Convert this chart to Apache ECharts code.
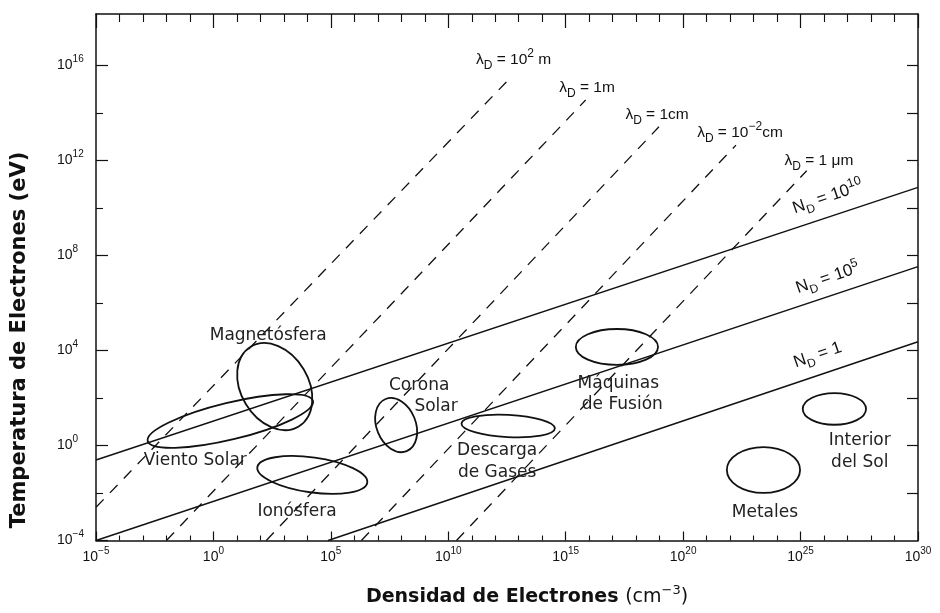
<!DOCTYPE html>
<html><head><meta charset="utf-8">
<script src="https://cdn.jsdelivr.net/npm/echarts@6/dist/echarts.min.js"></script>
<style>html,body{margin:0;padding:0;background:#fff}#c{width:940px;height:613px}</style>
</head><body><div id="c"></div>
<script>
// All values are log10: x = electron density (cm^-3), y = electron temperature (eV)
const xTicks = [-5, 0, 5, 10, 15, 20, 25, 30];
const yTicks = [-4, 0, 4, 8, 12, 16];
const yMinorTicks = [-2, 2, 6, 10, 14];
const yRightTicks = [-2, 0, 2, 4, 6, 8, 10, 12, 14, 16];

// N_D (particles in Debye sphere) lines, endpoints [log n, log T]
const ndOne = [[4.88, -4], [30, 4.37]];
const ndTen5 = [[-5, -4], [30, 7.53]];
const ndTen10 = [[-5, -0.61], [30, 10.87]];

// Debye length lines
const lambda100m = [[-5, -2.6], [12.66, 15.5]];
const lambda1m = [[-2.0, -4], [15.85, 14.55]];
const lambda1cm = [[2.25, -4], [18.97, 13.42]];
const lambda001cm = [[6.3, -4], [22.25, 12.65]];
const lambda1um = [[10.35, -4], [25.26, 11.57]];

// Plasma regions (ellipses): centre, semi-axes in decades, tilt in degrees
const regionNames = ['Viento Solar', 'Magnetósfera', 'Ionósfera', 'Corona Solar', 'Descarga de Gases', 'Máquinas de Fusión', 'Interior del Sol', 'Metales'];
const regionLogN = [0.72, 2.61, 4.21, 7.78, 12.55, 17.18, 26.44, 23.42];
const regionLogT = [1.03, 2.48, -1.24, 0.86, 0.82, 4.15, 1.54, -1.03];
const regionMajor = [3.6, 1.97, 2.35, 1.19, 1.98, 1.74, 1.34, 1.55];
const regionMinor = [0.78, 1.43, 0.74, 0.83, 0.47, 0.76, 0.67, 0.97];
const regionTilt = [13.6, -59, -8, -68, -3, 0, 0, 0];

// Region label texts and anchor points
const regionLabelText = ['Magnetósfera', 'Viento Solar', 'Corona', 'Solar', 'Descarga\nde Gases', 'Ionósfera', 'Máquinas', 'de Fusión', 'Interior\ndel Sol', 'Metales'];
const regionLabelN = [2.33, -0.77, 8.76, 9.48, 12.08, 3.56, 17.24, 17.41, 27.52, 23.48];
const regionLabelT = [4.61, -0.65, 2.51, 1.62, -0.69, -2.80, 2.59, 1.71, -0.25, -2.84];

// Debye length labels
const lambdaLabelText = [
  '{n|λ}{sub|D}{n| = 10}{sup|2}{n| m}',
  '{n|λ}{sub|D}{n| = 1m}',
  '{n|λ}{sub|D}{n| = 1cm}',
  '{n|λ}{sub|D}{n| = 10}{sup|−2}{n|cm}',
  '{n|λ}{sub|D}{n| = 1 μm}'
];
const lambdaLabelN = [12.78, 15.91, 18.89, 22.42, 25.78];
const lambdaLabelT = [16.23, 15.05, 13.92, 13.16, 11.98];

// N_D labels
const ndLabelText = [
  '{n|N}{sub|D}{n| = 10}{sup|10}',
  '{n|N}{sub|D}{n| = 10}{sup|5}',
  '{n|N}{sub|D}{n| = 1}'
];
const ndLabelN = [26.16, 26.16, 25.73];
const ndLabelT = [10.46, 7.05, 3.81];

const INK = '#111';
const SANS = 'Liberation Sans';

function powLabel(v) {
  const e = v < 0 ? '−' + (-v) : String(v);
  return '{b|10}{s|' + e + '}';
}
const tickRich = {
  b: {fontSize: 14, fontFamily: SANS, color: INK, lineHeight: 22},
  s: {fontSize: 10, fontFamily: SANS, color: INK, verticalAlign: 'top', lineHeight: 12}
};
const mathRich = {
  n: {fontSize: 15.5, fontFamily: SANS, fill: INK, lineHeight: 24},
  sub: {fontSize: 12, fontFamily: SANS, fill: INK, verticalAlign: 'bottom', lineHeight: 16},
  sup: {fontSize: 12, fontFamily: SANS, fill: INK, verticalAlign: 'top', lineHeight: 13}
};
const ndRich = {
  n: {fontSize: 17, fontFamily: SANS, fill: INK, lineHeight: 24},
  sub: {fontSize: 12, fontFamily: SANS, fill: INK, verticalAlign: 'bottom', lineHeight: 15},
  sup: {fontSize: 12.5, fontFamily: SANS, fill: INK, verticalAlign: 'top', lineHeight: 13}
};

const axisLine = {show: true, onZero: false, lineStyle: {color: INK, width: 1.5}};
const X_MIN = -5, X_MAX = 30, Y_MIN = -4, Y_MAX = 18.17;

function lineSeries(data, dashed) {
  return {
    type: 'line', data: data, showSymbol: false, symbol: 'none', silent: true,
    xAxisIndex: 0, yAxisIndex: 0, z: 3,
    lineStyle: {color: INK, width: dashed ? 1.3 : 1.4, type: dashed ? [11, 9] : 'solid'}
  };
}

function textSeries(texts, xs, ys, styleFn) {
  return {
    type: 'custom', silent: true, xAxisIndex: 0, yAxisIndex: 0, z: 5,
    encode: {x: 0, y: 1},
    data: xs.map((x, i) => [x, ys[i], i]),
    renderItem: function (params, api) {
      const p = api.coord([api.value(0), api.value(1)]);
      const st = styleFn();
      return {
        type: 'text', x: p[0], y: p[1], rotation: st.rotation || 0,
        style: Object.assign({text: texts[params.dataIndex], align: 'center', verticalAlign: 'middle'}, st.style)
      };
    }
  };
}

const option = {
  animation: false,
  backgroundColor: '#fff',
  grid: {left: 96, right: 22, top: 14, bottom: 72.5, containLabel: false},
  xAxis: [
    {
      type: 'value', position: 'bottom', min: X_MIN, max: X_MAX, interval: 5,
      axisLine: axisLine,
      axisTick: {show: true, inside: true, length: 9, lineStyle: {color: INK, width: 1.2}},
      minorTick: {show: true, splitNumber: 5, length: 5, lineStyle: {color: INK, width: 1.1}},
      splitLine: {show: false}, minorSplitLine: {show: false},
      axisLabel: {show: true, margin: 6, customValues: xTicks, formatter: powLabel, rich: tickRich}
    },
    {
      type: 'value', position: 'top', min: X_MIN, max: X_MAX, interval: 5,
      axisLine: axisLine,
      axisTick: {show: true, inside: true, length: 14, lineStyle: {color: INK, width: 1.2}},
      minorTick: {show: true, splitNumber: 5, length: 8, lineStyle: {color: INK, width: 1.1}},
      splitLine: {show: false}, axisLabel: {show: false}
    }
  ],
  yAxis: [
    {
      type: 'value', position: 'left', min: Y_MIN, max: Y_MAX, interval: 4,
      axisLine: axisLine,
      axisTick: {show: true, inside: true, length: 12, customValues: yTicks, lineStyle: {color: INK, width: 1.2}},
      splitLine: {show: false},
      axisLabel: {
        show: true, margin: 39, align: 'left', customValues: yTicks, rich: tickRich,
        formatter: v => (Math.abs(v % 4) < 1e-9 ? powLabel(v) : '')
      }
    },
    {
      type: 'value', position: 'left', min: Y_MIN, max: Y_MAX, interval: 2,
      axisLine: {show: false, onZero: false},
      axisTick: {show: true, inside: true, length: 7, customValues: yMinorTicks, lineStyle: {color: INK, width: 1.1}},
      splitLine: {show: false}, axisLabel: {show: false}
    },
    {
      type: 'value', position: 'right', min: Y_MIN, max: Y_MAX, interval: 2,
      axisLine: axisLine,
      axisTick: {show: true, inside: true, length: 11, customValues: yRightTicks, lineStyle: {color: INK, width: 1.2}},
      splitLine: {show: false}, axisLabel: {show: false}
    }
  ],
  graphic: [
    {
      type: 'text', x: 20, y: 340, rotation: Math.PI / 2,
      style: {text: 'Temperatura de Electrones (eV)', font: 'bold 21px "DejaVu Sans"', fill: INK, align: 'center', verticalAlign: 'middle'}
    },
    {
      type: 'text', x: 527, y: 597,
      style: {
        text: '{b|Densidad de Electrones }{r|(cm}{s|−3}{r|)}', align: 'center', verticalAlign: 'middle',
        rich: {
          b: {font: 'bold 19px "DejaVu Sans"', fill: INK, lineHeight: 26},
          r: {font: '19px "DejaVu Sans"', fill: INK, lineHeight: 26},
          s: {font: '13px "DejaVu Sans"', fill: INK, verticalAlign: 'top', lineHeight: 14}
        }
      }
    }
  ],
  series: [
    lineSeries(ndOne, false),
    lineSeries(ndTen5, false),
    lineSeries(ndTen10, false),
    lineSeries(lambda100m, true),
    lineSeries(lambda1m, true),
    lineSeries(lambda1cm, true),
    lineSeries(lambda001cm, true),
    lineSeries(lambda1um, true),
    {
      type: 'custom', silent: true, xAxisIndex: 0, yAxisIndex: 0, z: 4,
      encode: {x: 0, y: 1},
      data: regionNames.map((nm, i) => ({name: nm, value: [regionLogN[i], regionLogT[i], regionMajor[i], regionMinor[i], regionTilt[i]]})),
      renderItem: function (params, api) {
        const c = api.coord([api.value(0), api.value(1)]);
        const s = api.size([1, 1]);
        const k = (s[0] + s[1]) / 2;
        return {
          type: 'ellipse', x: c[0], y: c[1], rotation: api.value(4) * Math.PI / 180,
          shape: {cx: 0, cy: 0, rx: api.value(2) * k, ry: api.value(3) * k},
          style: {fill: 'none', stroke: INK, lineWidth: 1.8}
        };
      }
    },
    textSeries(regionLabelText, regionLabelN, regionLabelT, () => ({
      style: {font: '17px "DejaVu Sans"', fill: '#222', lineHeight: 22}
    })),
    textSeries(lambdaLabelText, lambdaLabelN, lambdaLabelT, () => ({
      style: {rich: mathRich, fill: INK}
    })),
    textSeries(ndLabelText, ndLabelN, ndLabelT, () => ({
      rotation: 19 * Math.PI / 180,
      style: {rich: ndRich, fill: INK}
    }))
  ]
};

const chart = echarts.init(document.getElementById('c'));
chart.setOption(option);
</script>
</body></html>
